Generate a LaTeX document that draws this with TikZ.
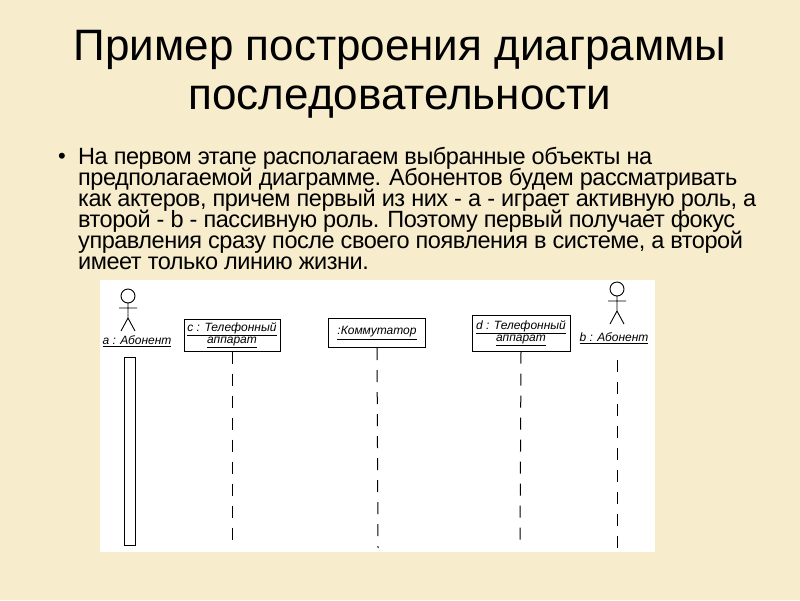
\documentclass[tikz,border=0pt]{standalone}
\usepackage{fontspec}
\setmainfont{Liberation Sans}
\begin{document}
\begin{tikzpicture}[x=1pt,y=-1pt,
 lbl/.style={font=\fontsize{12}{12}\selectfont\itshape, align=center, inner sep=1pt},
 obj/.style={draw, line width=1pt, lbl, minimum height=32pt},
 life/.style={line width=1pt, dash pattern=on 12pt off 10pt},
 btxt/.style={anchor=west, font=\fontsize{23.5}{20}\selectfont\addfontfeature{LetterSpace=-2}, inner sep=0pt}]
\fill[fill={rgb,255:red,247;green,236;blue,203}] (0,0) rectangle (800,600);
\useasboundingbox (0,0) rectangle (800,600);
\node (t1) at (400,50) {\fontsize{44}{48}\selectfont Пример построения диаграммы};
\node (t2) at (400,102) {\fontsize{44}{48}\selectfont последовательности};
\node (bl) at (62,158) {\fontsize{22}{20}\selectfont •};
\node[btxt] (l1) at (78,158) {На первом этапе располагаем выбранные объекты на};
\node[btxt] (l2) at (78,179) {предполагаемой диаграмме. Абонентов будем рассматривать};
\node[btxt] (l3) at (78,200) {как актеров, причем первый из них - a - играет активную роль, а};
\node[btxt] (l4) at (78,221) {второй - b - пассивную роль. Поэтому первый получает фокус};
\node[btxt] (l5) at (78,242) {управления сразу после своего появления в системе, а второй};
\node[btxt] (l6) at (78,263) {имеет только линию жизни.};
\fill[white] (100,280) rectangle (655,552);
% actor a
\draw[line width=0.9pt] (128,296) circle (7) (128,303) -- (128,318) (119,308) -- (137,308) (121,331) -- (128,318) -- (135,331);
\node[lbl] (a) at (137,341) {\underline{a : Абонент}};
\draw[line width=1pt] (124,357) rectangle (135,545);
% actor b
\draw[line width=0.9pt] (617,289) circle (7) (617,296) -- (617,311) (608,301) -- (626,301) (610,324) -- (617,311) -- (624,324);
\node[lbl] (b) at (614,338) {\underline{b : Абонент}};
\node[obj, minimum width=96pt] (c) at (232,335) {\underline{c : Телефонный}\\\underline{аппарат}};
\node[obj, minimum width=97pt, minimum height=29pt] (k) at (377,333) {\underline{:Коммутатор}};
\node[obj, minimum width=98pt, minimum height=36pt] (d) at (521,333) {\underline{d : Телефонный}\\\underline{аппарат}};
\coordinate (ce) at (232,548); \coordinate (ke) at (378,548);
\coordinate (de) at (520,548); \coordinate (bs) at (617,360); \coordinate (be) at (617,548);
\draw[life] (c.south) -- (ce);
\draw[life] (k.south) -- (ke);
\draw[life] (d.south) -- (de);
\draw[life] (bs) -- (be);
\end{tikzpicture}
\end{document}
